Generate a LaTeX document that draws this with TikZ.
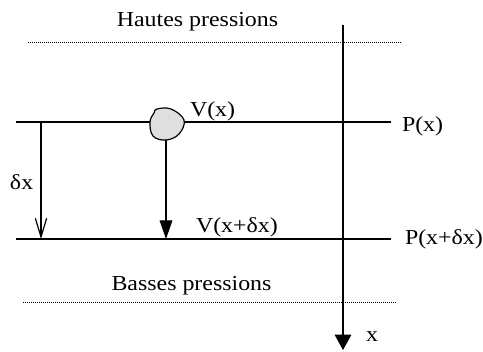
\documentclass[tikz,border=0pt]{standalone}
\usepackage{fontspec}
\setmainfont[FakeStretch=1.12]{Liberation Serif}
\usetikzlibrary{arrows.meta}
\begin{document}
\begin{tikzpicture}[x=0.75pt,y=-0.75pt,
  every node/.style={inner sep=0pt,outer sep=0pt},
  lbl/.style={font=\fontsize{16pt}{18pt}\selectfont},
  solidline/.style={line width=0.9pt},
  dotline/.style={line width=0.7pt,dash pattern=on 0.75pt off 0.75pt},
  openarrow/.style={solidline,-{Straight Barb[length=14pt,width=8.5pt,line width=0.9pt]}},
  fillarrow/.style={solidline,-{Triangle[length=14pt,width=9.5pt]}},
  axisarrow/.style={solidline,-{Triangle[length=11.5pt,width=12.5pt]}}]
\useasboundingbox (0,0) rectangle (483,352);
% texts
\node[lbl,anchor=base] (haut) at (197.5,27) {Hautes pressions};
\node[lbl,anchor=base] (bas) at (191.5,291) {Basses pressions};
\node[lbl,anchor=base west] (px) at (402,132) {P(x)};
\node[lbl,anchor=base west] (pxd) at (405,245) {P(x+δx)};
\node[lbl,anchor=base west] (vx) at (190,117) {V(x)};
\node[lbl,anchor=base west] (vxd) at (196,233) {V(x+δx)};
\node[lbl,anchor=base west] (dx) at (10,190) {δx};
\node[lbl,anchor=base west] (xl) at (366,342) {x};
% dotted lines
\coordinate (d1a) at (28,42); \coordinate (d1b) at (401,42);
\coordinate (d2a) at (23,302); \coordinate (d2b) at (396,302);
\draw[dotline] (d1a) -- (d1b);
\draw[dotline] (d2a) -- (d2b);
% pressure lines
\coordinate (t1) at (16,122); \coordinate (t2) at (391,122);
\coordinate (b1) at (16,239); \coordinate (b2) at (391,239);
\draw[solidline] (t1) -- (t2);
\draw[solidline] (b1) -- (b2);
% axis
\coordinate (ax1) at (343,25); \coordinate (ax2) at (343,350);
\draw[axisarrow] (ax1) -- (ax2);
% blob
\draw[line width=0.9pt,fill=gray!25] plot[smooth cycle,tension=0.65] coordinates
  {(157,109) (171,109) (184,120) (179,134) (166,140) (153,136) (150,122) (154,113)};
\coordinate (blob) at (166,140);
% arrows
\coordinate (l1) at (41,122); \coordinate (l2) at (41,239);
\draw[openarrow] (l1) -- (l2);
\coordinate (m2) at (166,239);
\draw[fillarrow] (blob) -- (m2);
\end{tikzpicture}
\end{document}
